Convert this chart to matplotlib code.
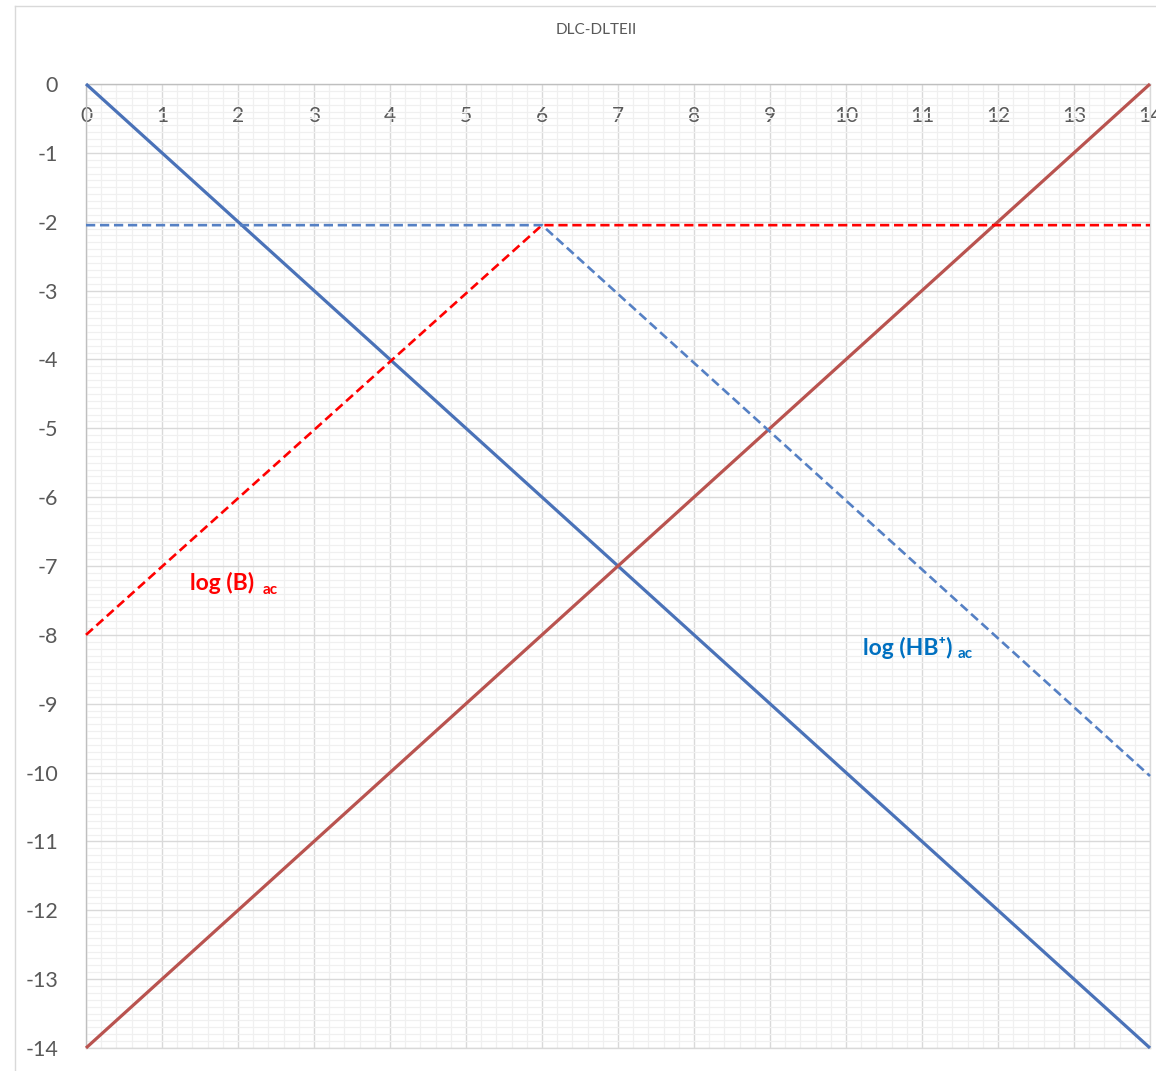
import numpy as np
import matplotlib
matplotlib.use("Agg")
import matplotlib.pyplot as plt
from matplotlib.ticker import MultipleLocator
from matplotlib.lines import Line2D

plt.rcParams['font.family'] = ['Lato', 'DejaVu Sans']
plt.rcParams['axes.unicode_minus'] = False

# pH axis and the four log-concentration series
ph = [0, 6, 14]
log_h = [0, -6, -14]            # log (H3O+)
log_oh = [-14, -8, 0]           # log (OH-)
log_b = [-8.0, -2.05, -2.05]    # log (B) ac
log_hb = [-2.05, -2.05, -10.05] # log (HB+) ac

x_ticks = list(range(0, 15))
y_ticks = list(range(0, -15, -1))

fig = plt.figure(figsize=(11.56, 10.71), dpi=100)
ax = fig.add_axes([86 / 1156, 1 - 1048 / 1071, (1150 - 86) / 1156, (1048 - 84) / 1071])

# chart-area border
fig.add_artist(Line2D([15 / 1156, 15 / 1156], [0, 1 - 6 / 1071], transform=fig.transFigure,
                      color='#d9d9d9', lw=1))
fig.add_artist(Line2D([15 / 1156, 1], [1 - 6 / 1071, 1 - 6 / 1071], transform=fig.transFigure,
                      color='#d9d9d9', lw=1))

ax.set_xlim(0, 14)
ax.set_ylim(-14, 0)
ax.xaxis.set_minor_locator(MultipleLocator(0.2))
ax.yaxis.set_minor_locator(MultipleLocator(0.1))
ax.set_xticks(x_ticks)
ax.set_yticks(y_ticks)

ax.grid(which='minor', color='#f0f0f0', lw=0.9, zorder=0)
ax.grid(which='major', color='#d9d9d9', lw=1.0, zorder=0)
ax.set_axisbelow(True)

for s in ax.spines.values():
    s.set_color('#d9d9d9')
    s.set_linewidth(1)
ax.spines['top'].set_color('#bfbfbf')
ax.spines['left'].set_color('#bfbfbf')

ax.xaxis.tick_top()
ax.tick_params(axis='x', which='both', length=0, pad=-30, labelsize=15, labelcolor='#595959')
ax.tick_params(axis='y', which='both', length=0, pad=20, labelsize=15.5, labelcolor='#595959')

ax.plot(ph, log_h, color='#4a72b8', lw=2.3, zorder=3, solid_capstyle='butt')
ax.plot(ph, log_oh, color='#b9534f', lw=2.3, zorder=3, solid_capstyle='butt')
ax.plot(ph, log_b, color='#ff0000', lw=1.9, ls=(0, (3.5, 1.8)), zorder=4)
ax.plot(ph, log_hb, color='#5580c4', lw=1.9, ls=(0, (3.5, 1.8)), zorder=4)

for ln in ax.lines:
    ln.set_clip_on(False)

ax.text(1.37, -7.35, 'log (B)', color='#ff0000', fontsize=16.5, fontweight='bold', va='baseline')
ax.text(2.32, -7.40, 'ac', color='#ff0000', fontsize=11, fontweight='bold', va='baseline')
ax.text(10.22, -8.29, 'log (HB⁺)', color='#0070c0', fontsize=16.5, fontweight='bold', va='baseline')
ax.text(11.47, -8.34, 'ac', color='#0070c0', fontsize=11, fontweight='bold', va='baseline')

fig.text(596 / 1156, 1 - 30 / 1071, 'DLC-DLTEII', ha='center', va='center', fontsize=11, color='#595959')

fig.savefig('out.png', dpi=100)
